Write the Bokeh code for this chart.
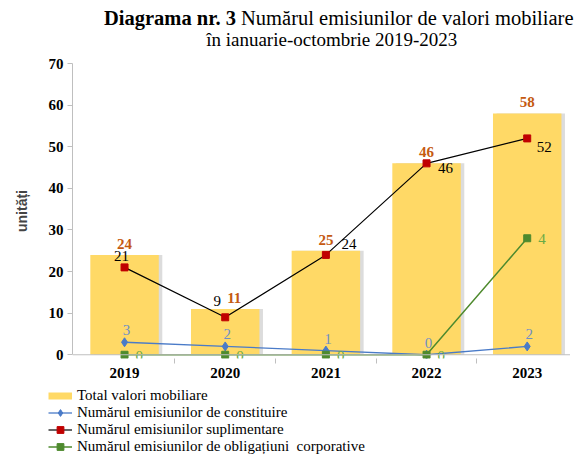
from bokeh.plotting import figure
from bokeh.models import (ColumnDataSource, FixedTicker, Legend, LegendItem, Span, Div)
from bokeh.layouts import column, row
from bokeh.transform import dodge
from bokeh.core.properties import value
from bokeh.embed import file_html
from bokeh.resources import INLINE

# ---- data ----
years = ["2019", "2020", "2021", "2022", "2023"]
total = [24, 11, 25, 46, 58]
constituire = [3, 2, 1, 0, 2]
suplimentare = [21, 9, 24, 46, 52]
obligatiuni_plotted = [0, 0, 0, 0, 28]
obligatiuni_labels = ["0", "0", "0", "0", "4"]
legend_labels = [
    "Total valori mobiliare",
    "Numărul emisiunilor de constituire",
    "Numărul emisiunilor suplimentare",
    "Numărul emisiunilor de obligațiuni  corporative",
]

# label offsets (pixels, style only)
TOTAL_DX = [0, 9, 0, 0, 0]
RED_DX = [-3, -8, 23, 19, 17]
RED_DY = [-11, -16, -11, 5, 9]

xs = list(range(len(years)))
SERIF = "'Liberation Serif', 'Times New Roman', serif"

BAR = "#FFD966"
BLUE = "#4A7BC8"
RED = "#C00000"
GREEN = "#4E8A2E"

src = ColumnDataSource(dict(
    x=xs, total=total, total_lbl=[str(v) for v in total],
    blue=constituire, blue_lbl=[str(v) for v in constituire],
    red=suplimentare, red_lbl=[str(v) for v in suplimentare],
    green=obligatiuni_plotted, green_lbl=obligatiuni_labels,
    tdx=TOTAL_DX, rdx=RED_DX, rdy=RED_DY,
))

p = figure(width=570, height=336, output_backend="svg", toolbar_location=None, title=None,
           x_range=(-0.517, 4.43), y_range=(-0.9, 70),
           min_border_left=72, min_border_right=0, min_border_top=15, min_border_bottom=26)
p.outline_line_color = None
p.grid.visible = False
p.background_fill_color = "white"

# bar shadow + bars
p.vbar(x=dodge("x", 0.035), top="total", bottom=0, width=0.68, source=src,
       fill_color="#BFBFBF", fill_alpha=0.55, line_color=None)
p.vbar(x="x", top="total", bottom=0, width=0.68, source=src,
       fill_color=BAR, line_color=None)

p.add_layout(Span(location=0, dimension="width", line_color="#BFBFBF", line_width=1))

# lines
p.line("x", "blue", source=src, line_color=BLUE, line_width=1.3)
p.scatter("x", "blue", source=src, marker="diamond", size=9, fill_color=BLUE, line_color=BLUE)
p.line("x", "red", source=src, line_color="black", line_width=1.2)
p.scatter("x", "red", source=src, marker="square", size=7, fill_color=RED, line_color=RED)
p.line("x", "green", source=src, line_color=GREEN, line_width=1.5)
p.scatter("x", "green", source=src, marker="square", size=7, fill_color=GREEN, line_color=GREEN)

# data labels
p.text(x="x", y="total", text="total_lbl", source=src, x_offset="tdx", y_offset=-6,
       text_align="center", text_baseline="bottom", text_font=value(SERIF),
       text_font_style="bold", text_font_size="15px", text_color="#C55A11")
p.text(x="x", y="red", text="red_lbl", source=src, x_offset="rdx", y_offset="rdy",
       text_align="center", text_baseline="middle", text_font=value(SERIF),
       text_font_size="15px", text_color="black")
p.text(x="x", y="blue", text="blue_lbl", source=src, x_offset=2, y_offset=-7,
       text_align="center", text_baseline="bottom", text_font=value(SERIF),
       text_font_size="15px", text_color="#6F8FC4")
p.text(x="x", y="green", text="green_lbl", source=src, x_offset=11, y_offset=1,
       text_align="left", text_baseline="middle", text_font=value(SERIF),
       text_font_size="15px", text_color="#6AAA45")

# axes
xa = p.xaxis[0]
xa.ticker = FixedTicker(ticks=xs, minor_ticks=[0.5, 1.5, 2.5, 3.5])
xa.major_label_overrides = {i: y for i, y in enumerate(years)}
xa.axis_line_color = None
xa.major_tick_line_color = None
xa.minor_tick_line_color = "#BFBFBF"
xa.minor_tick_in = 0
xa.minor_tick_out = 5
xa.major_label_standoff = 3
xa.major_label_text_font = SERIF
xa.major_label_text_font_style = "bold"
xa.major_label_text_font_size = "15px"
xa.major_label_text_color = "black"

ya = p.yaxis[0]
ya.ticker = FixedTicker(ticks=list(range(0, 71, 10)))
ya.bounds = (0, 70)
ya.axis_line_color = "#BFBFBF"
ya.major_tick_line_color = "#BFBFBF"
ya.major_tick_in = 0
ya.major_tick_out = 5
ya.minor_tick_line_color = None
ya.major_label_standoff = 4
ya.major_label_text_font = SERIF
ya.major_label_text_font_style = "bold"
ya.major_label_text_font_size = "15px"
ya.major_label_text_color = "black"
ya.axis_label = "unități"
ya.axis_label_text_font = "Liberation Sans"
ya.axis_label_text_font_style = "bold"
ya.axis_label_text_font_size = "14px"
ya.axis_label_standoff = 16

# ---- legend in its own small figure; its ranges keep the proxy glyphs out of view ----
lf = figure(width=570, height=74, output_backend="svg", toolbar_location=None, title=None,
            x_range=(-100, -99), y_range=(-100, -99), x_axis_type=None, y_axis_type=None,
            min_border=0)
lf.outline_line_color = None
lf.grid.visible = False
r0 = lf.line("x", "total", source=src, line_color=BAR, line_width=7, line_cap="butt")
r1 = [lf.line("x", "blue", source=src, line_color=BLUE, line_width=1.3),
      lf.scatter("x", "blue", source=src, marker="diamond", size=8, fill_color=BLUE, line_color=BLUE)]
r2 = [lf.line("x", "red", source=src, line_color="black", line_width=1.2),
      lf.scatter("x", "red", source=src, marker="square", size=6, fill_color=RED, line_color=RED)]
r3 = [lf.line("x", "green", source=src, line_color=GREEN, line_width=1.5),
      lf.scatter("x", "green", source=src, marker="square", size=6, fill_color=GREEN, line_color=GREEN)]

legend = Legend(items=[
    LegendItem(label=legend_labels[0], renderers=[r0]),
    LegendItem(label=legend_labels[1], renderers=r1),
    LegendItem(label=legend_labels[2], renderers=r2),
    LegendItem(label=legend_labels[3], renderers=r3),
], location=(48, 3), orientation="vertical")
legend.padding = 0
legend.margin = 0
legend.spacing = 0
legend.label_height = 17
legend.glyph_height = 17
legend.glyph_width = 24
legend.label_standoff = 5
legend.label_text_font = SERIF
legend.label_text_font_size = "15px"
legend.label_text_color = "black"
legend.background_fill_alpha = 0
legend.border_line_alpha = 0
lf.add_layout(legend, "center")

title_html = (
    '<div style="font-family:\'Liberation Serif\'; color:black; white-space:nowrap; '
    'text-align:center; padding-top:2px">'
    '<div style="font-size:20.5px; line-height:22px; height:22px; padding-left:99px">'
    '<b>Diagrama nr. 3</b> Numărul emisiunilor de valori mobiliare</div>'
    '<div style="font-size:19px; line-height:22px; height:22px; padding-left:85px">'
    'în ianuarie-octombrie 2019-2023</div></div>'
)
title = Div(text=title_html, width=575, height=38)

layout = column(title, p, row(lf), spacing=0)
open("out.html", "w").write(file_html(layout, INLINE))
